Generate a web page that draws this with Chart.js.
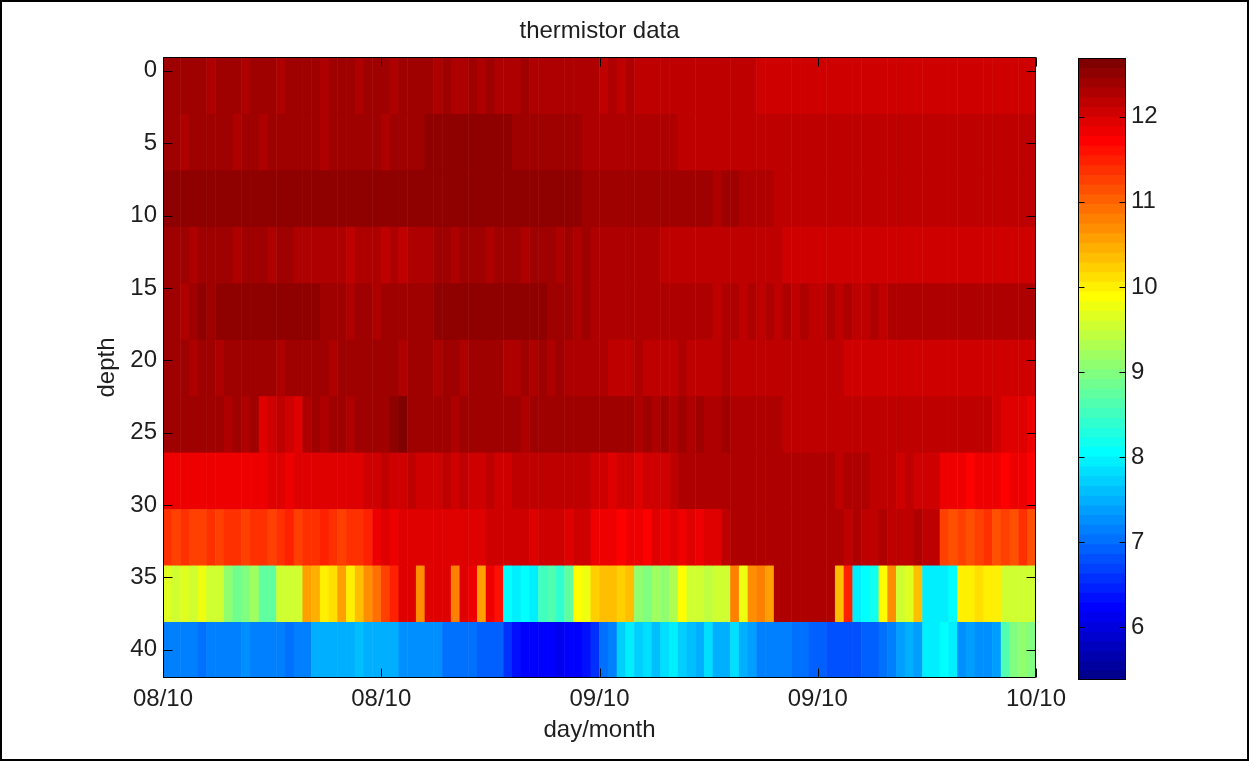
<!DOCTYPE html>
<html>
<head>
<meta charset="utf-8">
<title>thermistor data</title>
<script src="https://cdn.jsdelivr.net/npm/chart.js@4.4.1/dist/chart.umd.min.js"></script>
<style>
html, body { margin: 0; padding: 0; background: #fff; }
#fig { position: absolute; left: 0; top: 0; width: 1249px; height: 761px; box-sizing: border-box; border: 2px solid #000; background: #fff; }
#main { position: absolute; left: 0; top: 0; }
#cbar { position: absolute; left: 1040px; top: 0; }
</style>
</head>
<body>
<div id="fig"></div>
<canvas id="main" width="1249" height="761"></canvas>
<canvas id="cbar" width="209" height="761"></canvas>
<script>
// ---------------- data ----------------
const depths = [1.0, 4.9, 8.8, 12.7, 16.6, 20.5, 24.4, 28.3, 32.2, 36.1, 40.0];
const rowHalf = 1.95;            // half height of a thermistor row (depth units)
const hoursPerSample = 0.48;     // time step between samples (hours)
const xTickHours = [0, 12, 24, 36, 48];
const xTickLabels = ['08/10', '08/10', '09/10', '09/10', '10/10'];
const yTickValues = [0, 5, 10, 15, 20, 25, 30, 35, 40];
const cbarTickValues = [6, 7, 8, 9, 10, 11, 12];
const cmin = 5.38, cmax = 12.69;

const temp_d01 = [
12.38,12.36,12.40,12.35,12.37,12.33,12.36,12.38,12.35,12.34,
12.36,12.37,12.35,12.33,12.36,12.38,12.40,12.36,12.34,12.35,
12.37,12.36,12.33,12.35,12.38,12.36,12.34,12.36,12.35,12.37,
12.35,12.33,12.36,12.34,12.32,12.35,12.33,12.36,12.34,12.32,
12.33,12.35,12.31,12.33,12.30,12.32,12.30,12.31,12.29,12.25,
12.22,12.26,12.20,12.24,12.19,12.23,12.21,12.18,12.22,12.17,
12.21,12.19,12.23,12.18,12.20,12.16,12.19,12.14,12.09,12.07,
12.06,12.08,12.07,12.05,12.08,12.06,12.07,12.09,12.06,12.07,
12.08,12.06,12.05,12.07,12.08,12.06,12.07,12.05,12.08,12.07,
12.06,12.08,12.07,12.06,12.05,12.07,12.08,12.06,12.07,12.06];
const temp_d05 = [
12.36,12.39,12.34,12.38,12.41,12.35,12.37,12.40,12.33,12.38,
12.36,12.34,12.39,12.41,12.35,12.37,12.40,12.36,12.33,12.38,
12.40,12.35,12.37,12.42,12.36,12.34,12.38,12.40,12.37,12.35,
12.50,12.55,12.56,12.55,12.57,12.55,12.56,12.54,12.55,12.52,
12.40,12.37,12.41,12.35,12.38,12.42,12.36,12.39,12.34,12.30,
12.30,12.33,12.28,12.31,12.29,12.32,12.30,12.28,12.27,12.23,
12.22,12.21,12.23,12.22,12.22,12.21,12.23,12.22,12.21,12.22,
12.22,12.23,12.22,12.21,12.22,12.23,12.22,12.21,12.22,12.22,
12.23,12.22,12.21,12.22,12.22,12.23,12.22,12.21,12.22,12.23,
12.22,12.21,12.22,12.23,12.22,12.22,12.21,12.22,12.23,12.20];
const temp_d09 = [
12.54,12.56,12.55,12.57,12.55,12.56,12.54,12.55,12.57,12.56,
12.55,12.56,12.55,12.54,12.56,12.55,12.57,12.55,12.56,12.55,
12.56,12.55,12.54,12.56,12.55,12.57,12.56,12.55,12.54,12.56,
12.55,12.56,12.57,12.55,12.56,12.54,12.55,12.56,12.55,12.54,
12.55,12.53,12.54,12.52,12.53,12.50,12.48,12.47,12.46,12.44,
12.43,12.42,12.44,12.41,12.43,12.42,12.40,12.41,12.38,12.36,
12.37,12.35,12.36,12.34,12.36,12.35,12.33,12.34,12.32,12.30,
12.22,12.21,12.23,12.22,12.21,12.22,12.23,12.21,12.22,12.21,
12.22,12.21,12.22,12.23,12.21,12.22,12.21,12.22,12.23,12.22,
12.21,12.22,12.21,12.22,12.23,12.21,12.22,12.21,12.22,12.21];
const temp_d13 = [
12.37,12.35,12.40,12.34,12.38,12.36,12.41,12.35,12.33,12.39,
12.36,12.40,12.34,12.37,12.39,12.33,12.30,12.27,12.24,12.29,
12.25,12.22,12.28,12.24,12.29,12.23,12.27,12.21,12.26,12.28,
12.31,12.37,12.39,12.34,12.36,12.40,12.35,12.33,12.38,12.36,
12.39,12.34,12.37,12.35,12.38,12.33,12.36,12.34,12.35,12.30,
12.27,12.25,12.28,12.26,12.24,12.27,12.25,12.22,12.23,12.21,
12.22,12.20,12.23,12.21,12.22,12.20,12.22,12.21,12.19,12.20,
12.16,12.09,12.07,12.10,12.05,12.08,12.06,12.10,12.03,12.08,
12.07,12.04,12.09,12.06,12.10,12.05,12.08,12.02,12.09,12.06,
12.08,12.05,12.09,12.03,12.07,12.06,12.09,12.05,12.08,12.06];
const temp_d17 = [
12.36,12.38,12.34,12.40,12.50,12.46,12.52,12.48,12.53,12.47,
12.51,12.54,12.49,12.52,12.55,12.50,12.48,12.53,12.38,12.35,
12.37,12.33,12.36,12.40,12.34,12.38,12.35,12.37,12.41,12.36,
12.38,12.50,12.54,12.52,12.55,12.51,12.53,12.56,12.52,12.54,
12.51,12.55,12.52,12.50,12.40,12.36,12.39,12.34,12.37,12.33,
12.32,12.34,12.30,12.33,12.31,12.34,12.32,12.30,12.33,12.31,
12.30,12.27,12.24,12.23,12.25,12.24,12.22,12.24,12.23,12.25,
12.23,12.24,12.22,12.24,12.23,12.22,12.24,12.23,12.25,12.22,
12.23,12.24,12.22,12.28,12.29,12.27,12.28,12.29,12.27,12.28,
12.29,12.27,12.28,12.30,12.28,12.27,12.29,12.28,12.27,12.28];
const temp_d21 = [
12.38,12.36,12.41,12.34,12.39,12.37,12.33,12.40,12.36,12.42,
12.35,12.38,12.40,12.34,12.41,12.37,12.35,12.39,12.36,12.33,
12.38,12.41,12.35,12.37,12.42,12.36,12.39,12.34,12.37,12.40,
12.36,12.34,12.39,12.37,12.33,12.38,12.41,12.35,12.37,12.34,
12.32,12.37,12.30,12.35,12.31,12.36,12.32,12.30,12.34,12.26,
12.24,12.22,12.23,12.21,12.24,12.22,12.23,12.21,12.22,12.24,
12.22,12.23,12.21,12.22,12.24,12.22,12.21,12.23,12.22,12.21,
12.22,12.23,12.21,12.22,12.20,12.22,12.21,12.12,12.08,12.05,
12.10,12.02,12.08,12.11,12.06,12.09,12.03,12.10,12.07,12.04,
12.09,12.11,12.06,12.08,12.10,12.05,12.09,12.07,12.10,12.08];
const temp_d24 = [
12.38,12.40,12.36,12.39,12.42,12.37,12.35,12.32,12.37,12.30,
12.35,11.96,12.02,12.14,12.05,11.98,12.33,12.37,12.34,12.39,
12.36,12.33,12.38,12.35,12.40,12.36,12.57,12.59,12.45,12.38,
12.41,12.36,12.39,12.34,12.40,12.37,12.35,12.39,12.36,12.41,
12.38,12.34,12.39,12.36,12.41,12.35,12.38,12.39,12.36,12.35,
12.38,12.37,12.39,12.36,12.34,12.36,12.33,12.35,12.34,12.36,
12.33,12.35,12.34,12.32,12.35,12.33,12.34,12.32,12.34,12.33,
12.28,12.20,12.18,12.19,12.17,12.20,12.18,12.19,12.17,12.18,
12.19,12.17,12.18,12.20,12.18,12.17,12.19,12.18,12.16,12.18,
12.17,12.15,12.13,12.14,12.12,12.10,11.98,11.92,11.90,11.88];
const temp_d28 = [
11.86,11.84,11.87,11.82,11.85,11.88,11.83,11.86,11.89,11.84,
11.87,11.85,11.91,11.96,11.89,11.93,11.99,11.90,11.97,11.92,
11.98,11.91,11.94,12.10,12.08,12.12,12.06,12.10,12.13,12.08,
12.11,12.09,12.14,12.07,12.12,12.10,12.08,12.13,12.11,12.09,
12.16,12.12,12.15,12.17,12.14,12.16,12.15,12.13,12.16,12.08,
12.04,11.98,12.06,12.02,11.97,12.05,12.08,12.03,12.15,12.24,
12.25,12.26,12.24,12.27,12.25,12.26,12.24,12.27,12.25,12.26,
12.24,12.26,12.25,12.27,12.24,12.26,12.25,12.23,12.26,12.24,
12.25,12.23,12.20,12.12,12.10,12.13,12.09,12.11,12.10,11.85,
11.80,11.88,11.76,11.84,11.78,11.86,11.75,11.82,11.79,11.77];
const temp_d32 = [
11.32,11.26,11.38,11.30,11.24,11.35,11.28,11.40,11.32,11.25,
11.36,11.42,11.30,11.34,11.46,11.28,11.37,11.32,11.45,11.38,
11.30,11.42,11.35,11.48,11.85,11.92,11.88,11.95,11.90,11.97,
11.93,11.98,11.91,11.96,12.00,11.94,11.99,12.02,12.05,12.08,
12.06,12.09,11.98,12.07,12.10,12.05,11.96,12.08,12.04,11.88,
11.78,11.85,11.72,11.88,11.80,11.76,11.90,11.86,11.92,11.88,
11.94,11.89,11.93,11.90,12.18,12.28,12.30,12.29,12.31,12.28,
12.30,12.29,12.31,12.28,12.30,12.29,12.27,12.25,12.22,12.24,
12.23,12.21,12.24,12.22,12.23,12.21,12.24,12.22,12.23,11.25,
11.18,11.30,11.15,11.22,11.35,11.12,11.26,11.20,11.32,11.18];
const temp_d36 = [
9.65,9.55,9.70,9.60,9.75,9.60,9.50,9.10,8.90,9.00,
9.20,8.70,8.75,9.55,9.60,9.50,10.60,10.50,9.95,10.10,
10.60,10.00,10.30,10.70,10.90,11.30,11.50,11.90,12.00,10.70,
12.00,11.90,12.00,10.80,11.90,11.80,10.60,11.80,11.60,8.10,
7.95,8.05,8.00,8.50,8.60,8.40,8.70,9.90,9.80,10.20,
10.30,10.40,10.20,10.35,9.10,9.00,9.20,9.10,9.30,9.90,
9.50,9.60,9.45,9.55,9.60,10.80,9.80,10.70,10.75,10.60,
12.25,12.30,12.25,12.28,12.30,12.26,12.30,10.30,11.50,8.00,
8.10,8.20,9.90,10.70,9.60,9.70,10.40,7.95,8.00,7.90,
8.05,10.05,10.00,10.10,9.95,10.00,9.60,9.50,9.55,9.50];
const temp_d40 = [
7.15,7.12,7.18,7.10,7.08,7.14,7.12,7.20,7.16,7.22,
7.18,7.14,7.20,7.12,7.08,7.10,7.14,7.45,7.50,7.55,
7.48,7.52,7.56,7.50,7.47,7.53,7.49,7.30,7.28,7.32,
7.25,7.27,7.05,7.00,6.98,7.02,6.96,6.92,6.88,6.60,
6.30,6.22,6.18,6.25,6.20,6.15,6.22,6.28,6.35,6.60,
7.00,7.10,7.75,7.90,7.70,7.85,7.65,7.80,7.95,7.70,
7.60,7.50,7.85,7.55,7.45,7.80,7.50,7.40,7.20,7.15,
7.10,7.18,7.05,7.00,6.95,6.90,6.85,6.80,6.78,6.82,
6.90,6.95,7.05,7.15,7.40,7.45,7.35,8.00,7.95,8.05,
7.90,7.30,7.35,7.25,7.30,7.40,8.60,9.00,9.10,9.00];

const tempRows = [temp_d01, temp_d05, temp_d09, temp_d13, temp_d17, temp_d21,
                  temp_d24, temp_d28, temp_d32, temp_d36, temp_d40];

// ---------------- colormap (MATLAB jet, 64 levels) ----------------
function jet64(idx) {
  const k = idx + 1;
  const u = j => (j < 1 || j > 47) ? 0 : (j <= 16 ? j / 16 : (j <= 31 ? 1 : (48 - j) / 16));
  return [u(k - 24), u(k - 8), u(k + 8)].map(c => Math.round(c * 255));
}
function colorIndex(v) {
  const i = Math.floor((v - cmin) / (cmax - cmin) * 64);
  return Math.max(0, Math.min(63, i));
}
const rgbCss = c => `rgb(${c[0]},${c[1]},${c[2]})`;
const jetCss = v => rgbCss(jet64(colorIndex(v)));

// ---------------- shared styling ----------------
const FONT = "'Liberation Sans', Arial, Helvetica, sans-serif";
const TEXT = '#1e1e1e';
Chart.defaults.font.family = FONT;
Chart.defaults.font.size = 24;
Chart.defaults.color = TEXT;

const axesFrame = {
  id: 'axesFrame',
  afterDatasetsDraw(chart, args, opts) {
    const {ctx, chartArea: a, scales} = chart;
    const L = Math.round(a.left) + 0.5, R = Math.round(a.right) - 0.5;
    const T = Math.round(a.top) + 0.5, B = Math.round(a.bottom) - 0.5;
    const tl = opts.tickLen || 8;
    ctx.save();
    ctx.strokeStyle = '#000';
    ctx.lineWidth = 1;
    ctx.beginPath();
    ctx.rect(L, T, R - L, B - T);
    if (opts.xTicks && scales.x) {
      scales.x.ticks.forEach((t, i) => {
        const px = Math.round(scales.x.getPixelForTick(i)) + 0.5;
        ctx.moveTo(px, B); ctx.lineTo(px, B - tl);
        ctx.moveTo(px, T); ctx.lineTo(px, T + tl);
      });
    }
    if (scales.y) {
      scales.y.ticks.forEach((t, i) => {
        const py = Math.round(scales.y.getPixelForTick(i)) + 0.5;
        ctx.moveTo(L, py); ctx.lineTo(L + tl, py);
        ctx.moveTo(R, py); ctx.lineTo(R - tl, py);
      });
    }
    ctx.stroke();
    ctx.restore();
  }
};

// ---------------- heat map ----------------
const heatDatasets = depths.map((d, r) => ({
  label: 'depth ' + d,
  data: tempRows[r].map((v, i) => ({x: (i + 0.5) * hoursPerSample, y: [d - rowHalf - 0.03, d + rowHalf + 0.03]})),
  backgroundColor: tempRows[r].map(jetCss),
  borderWidth: 0,
  borderSkipped: false,
  grouped: false,
  barPercentage: 1.06,
  categoryPercentage: 1,
  clip: 0
}));

new Chart(document.getElementById('main'), {
  type: 'bar',
  data: {datasets: heatDatasets},
  options: {
    responsive: false,
    animation: false,
    events: [],
    layout: {padding: {left: 0, right: 213, top: 0, bottom: 0}},
    plugins: {
      legend: {display: false},
      tooltip: {enabled: false},
      title: {
        display: true, text: 'thermistor data', fullSize: false,
        color: TEXT, font: {size: 24, weight: 'normal'},
        padding: {top: 17.3, bottom: 10.9}
      },
      axesFrame: {tickLen: 9, xTicks: true}
    },
    scales: {
      x: {
        type: 'linear', min: 0, max: 48, offset: false,
        grid: {display: false, drawTicks: false, offset: false},
        border: {display: false},
        afterBuildTicks: s => { s.ticks = xTickHours.map(v => ({value: v})); },
        ticks: {autoSkip: false, maxRotation: 0, minRotation: 0, padding: 7,
                callback: (v, i) => xTickLabels[i]},
        title: {display: true, text: 'day/month', padding: {top: 0, bottom: 16.5}},
        afterFit: s => { s.height = 83; }
      },
      y: {
        type: 'linear', reverse: true, min: -0.95, max: 41.95,
        grid: {display: false, drawTicks: false},
        border: {display: false},
        afterBuildTicks: s => { s.ticks = yTickValues.map(v => ({value: v})); },
        ticks: {padding: 6, callback: v => String(v)},
        title: {display: true, text: 'depth', padding: {top: 92.6, bottom: 0}},
        afterFit: s => { s.width = 163; }
      }
    }
  },
  plugins: [axesFrame]
});

// ---------------- colour bar ----------------
const cbarLevels = Array.from({length: 64}, (_, i) => i);
const cbarStep = (cmax - cmin) / 64;
new Chart(document.getElementById('cbar'), {
  type: 'bar',
  data: {
    labels: ['cbar'],
    datasets: [{
      data: cbarLevels.map(i => ({x: 'cbar', y: [cmin + i * cbarStep, cmin + (i + 1) * cbarStep + 0.01]})),
      backgroundColor: cbarLevels.map(i => rgbCss(jet64(i))),
      borderWidth: 0,
      borderSkipped: false,
      barPercentage: 1,
      categoryPercentage: 1,
      clip: 0
    }]
  },
  options: {
    responsive: false,
    animation: false,
    events: [],
    layout: {padding: {left: 38, right: 0, top: 58, bottom: 81}},
    plugins: {
      legend: {display: false},
      tooltip: {enabled: false},
      axesFrame: {tickLen: 6, xTicks: false}
    },
    scales: {
      x: {display: false},
      y: {
        position: 'right', min: cmin, max: cmax,
        grid: {display: false, drawTicks: false},
        border: {display: false},
        afterBuildTicks: s => { s.ticks = cbarTickValues.map(v => ({value: v})); },
        ticks: {padding: 5, callback: v => String(v)},
        afterFit: s => { s.width = 123; }
      }
    }
  },
  plugins: [axesFrame]
});
</script>
</body>
</html>
